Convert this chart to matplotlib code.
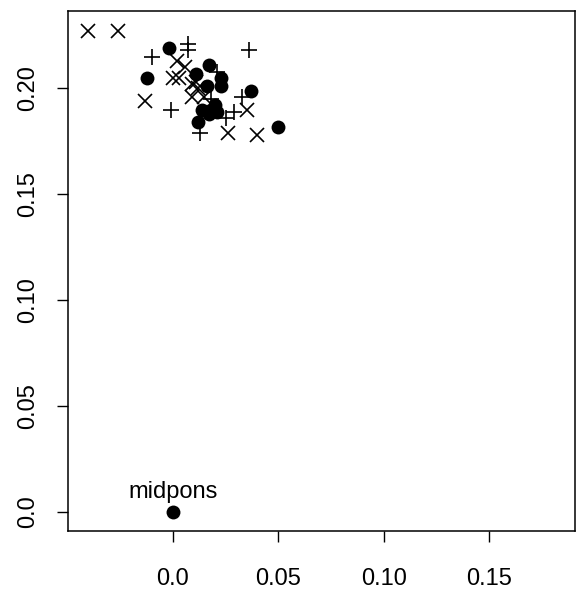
import matplotlib
matplotlib.use("Agg")
import matplotlib.pyplot as plt

# filled circles
circ_x = [-0.002, -0.012, 0.011, 0.017, 0.023, 0.023, 0.016, 0.037, 0.014,
          0.020, 0.017, 0.021, 0.012, 0.050, 0.018]
circ_y = [0.219, 0.205, 0.207, 0.211, 0.205, 0.201, 0.201, 0.199, 0.190,
          0.192, 0.188, 0.189, 0.184, 0.182, 0.190]

# crosses (x)
cross_x = [-0.040, -0.026, -0.013, 0.002, 0.006, 0.000, 0.003, 0.009, 0.011,
           0.012, 0.009, 0.015, 0.026, 0.035, 0.040]
cross_y = [0.227, 0.227, 0.194, 0.213, 0.210, 0.205, 0.205, 0.202, 0.203,
           0.200, 0.196, 0.196, 0.179, 0.190, 0.178]

# plus signs
plus_x = [-0.010, 0.007, 0.007, 0.036, -0.001, 0.013, 0.021, 0.033, 0.029,
          0.025, 0.018]
plus_y = [0.215, 0.221, 0.218, 0.218, 0.190, 0.179, 0.208, 0.196, 0.189,
          0.186, 0.195]

mid_label = "midpons"
mid_x, mid_y = 0.0, 0.0

xticks = [0.0, 0.05, 0.10, 0.15]
xticklabels = ["0.0", "0.05", "0.10", "0.15"]
yticks = [0.0, 0.05, 0.10, 0.15, 0.20]
yticklabels = ["0.0", "0.05", "0.10", "0.15", "0.20"]

plt.rcParams['font.family'] = ['Liberation Sans', 'DejaVu Sans']

fig = plt.figure(figsize=(5.76, 5.91), dpi=100)
ax = fig.add_axes([68 / 576, 1 - 531 / 591, (575 - 68) / 576, (531 - 11) / 591])

ax.plot(circ_x, circ_y, 'o', color='black', ms=10, mew=0)
ax.plot(cross_x, cross_y, 'x', color='black', ms=10, mew=1.2)
ax.plot(plus_x, plus_y, '+', color='black', ms=11, mew=1.2)
ax.plot([mid_x], [mid_y], 'o', color='black', ms=10, mew=0)
ax.annotate(mid_label, (mid_x, mid_y), xytext=(0, 6), textcoords='offset points',
            ha='center', va='bottom', fontsize=17)

ax.set_xlim(-0.0496, 0.1905)
ax.set_ylim(-0.0091, 0.2366)
ax.set_xticks(xticks)
ax.set_xticklabels(xticklabels)
ax.set_yticks(yticks)
ax.set_yticklabels(yticklabels, rotation=90, va='center')
ax.tick_params(length=8, width=1, labelsize=17)
ax.tick_params(axis='x', pad=18.5)
ax.tick_params(axis='y', pad=13)

for s in ax.spines.values():
    s.set_linewidth(1.1)

fig.savefig("out.png", dpi=100)
